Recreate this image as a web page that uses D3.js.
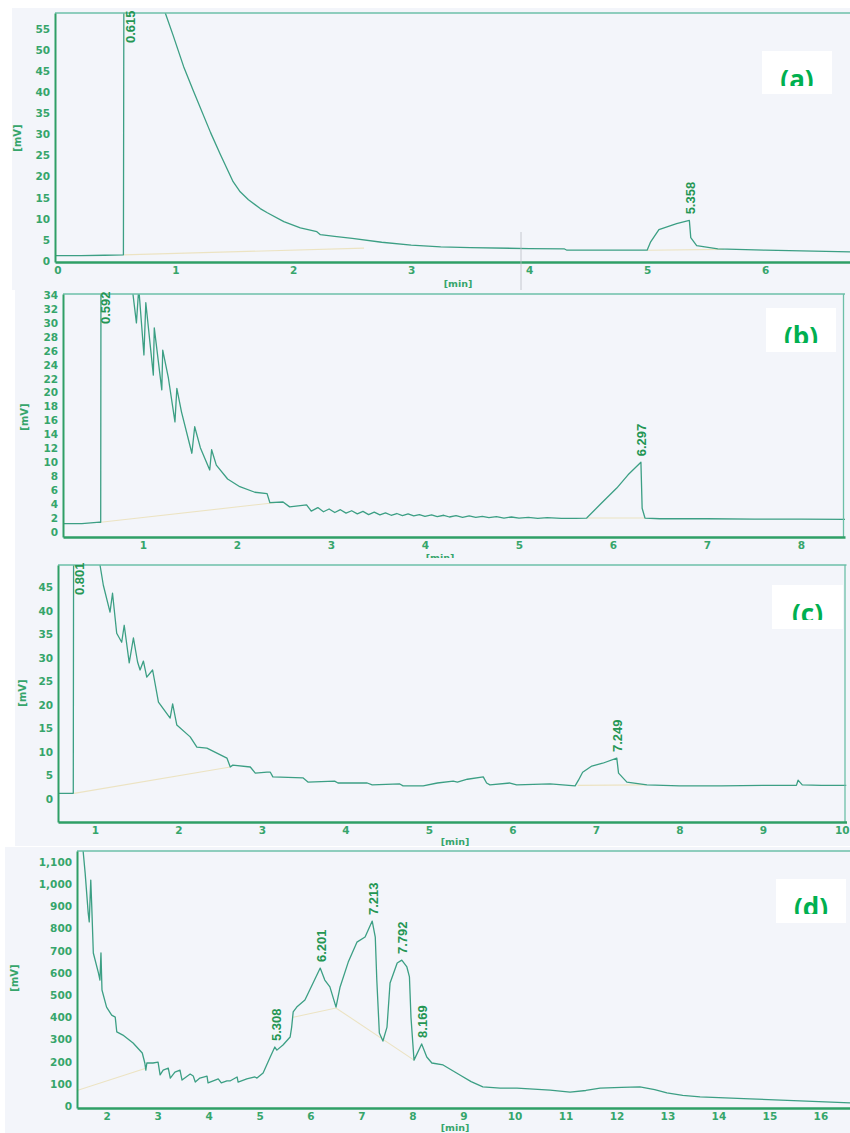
<!DOCTYPE html>
<html>
<head>
<meta charset="utf-8">
<script src="https://cdnjs.cloudflare.com/ajax/libs/d3/7.8.5/d3.min.js"></script>
<style>
body { margin: 0; background: #ffffff; }
svg { display: block; }
.tick text { font-family: "DejaVu Sans", sans-serif; font-weight: bold; font-size: 10.5px; fill: #36a56b; }
</style>
</head>
<body>
<svg id="chart" width="850" height="1133"></svg>
<script>
// chromatogram traces, [time (min), signal (mV)]
var traceA = [[-0.02,1.2],[0.2,1.2],[0.4,1.3],[0.56,1.4],[0.565,80],[0.615,130],[0.8,80],[0.915,58.9],[0.98,53.7],[1.07,46.2],[1.15,40.6],[1.3,30.4],[1.38,25.4],[1.49,18.8],[1.55,16.4],[1.62,14.5],[1.72,12.4],[1.78,11.4],[1.92,9.3],[2.06,7.8],[2.2,6.9],[2.23,6.2],[2.35,5.8],[2.5,5.3],[2.75,4.4],[3.0,3.7],[3.25,3.3],[3.5,3.1],[4.0,2.9],[4.3,2.8],[4.32,2.5],[5.0,2.5],[5.03,4.5],[5.1,7.4],[5.25,8.8],[5.358,9.6],[5.37,5.5],[5.42,3.6],[5.6,2.8],[6.0,2.5],[6.72,2.1]];
var traceB = [[0.15,1.2],[0.35,1.2],[0.54,1.4],[0.55,1.4],[0.555,60],[0.592,90],[0.85,60],[0.89,34.5],[0.93,30],[0.955,35],[1.01,25.4],[1.03,32.9],[1.11,22.5],[1.12,29.3],[1.2,20.4],[1.21,26.1],[1.27,22.1],[1.34,15.8],[1.36,20.6],[1.41,17.2],[1.52,11.3],[1.55,15.1],[1.61,12.1],[1.71,8.9],[1.73,11.8],[1.78,9.6],[1.9,7.6],[2.03,6.5],[2.19,5.7],[2.32,5.5],[2.35,4.2],[2.49,4.3],[2.56,3.6],[2.74,3.9],[2.79,3.0],[2.86,3.5],[2.92,2.9],[2.98,3.3],[3.04,2.8],[3.1,3.2],[3.16,2.7],[3.22,3.05],[3.28,2.6],[3.34,2.95],[3.4,2.5],[3.46,2.85],[3.52,2.45],[3.58,2.75],[3.64,2.4],[3.7,2.65],[3.76,2.35],[3.82,2.6],[3.88,2.3],[3.94,2.5],[4.0,2.25],[4.07,2.45],[4.13,2.2],[4.2,2.4],[4.26,2.15],[4.33,2.35],[4.4,2.1],[4.47,2.3],[4.54,2.1],[4.61,2.25],[4.68,2.05],[4.76,2.2],[4.84,2.0],[4.92,2.15],[5.0,2.0],[5.1,2.1],[5.2,1.95],[5.3,2.05],[5.45,1.95],[5.6,1.95],[5.72,2.0],[5.86,3.9],[6.04,6.3],[6.16,8.2],[6.297,10.0],[6.31,3.4],[6.34,2.0],[6.5,1.9],[7.0,1.9],[7.5,1.85],[8.0,1.85],[8.47,1.8]];
var traceC = [[0.557,1.2],[0.65,1.2],[0.74,1.2],[0.745,70],[0.801,100],[1.0,70],[1.06,49.7],[1.1,45.4],[1.18,39.7],[1.21,43.7],[1.26,35.2],[1.32,33.3],[1.35,36.9],[1.41,28.9],[1.46,34.2],[1.51,29.1],[1.54,27.4],[1.58,29.3],[1.62,25.9],[1.69,27.4],[1.76,20.6],[1.9,17.2],[1.93,20.2],[1.98,15.7],[2.14,13.2],[2.22,11.0],[2.34,10.8],[2.58,8.7],[2.62,6.8],[2.65,7.2],[2.86,6.8],[2.92,5.5],[3.06,5.7],[3.1,5.7],[3.13,4.7],[3.49,4.5],[3.55,3.6],[3.87,3.8],[3.91,3.4],[4.26,3.4],[4.32,3.0],[4.65,3.2],[4.69,2.8],[4.93,2.8],[5.1,3.4],[5.29,3.8],[5.34,3.6],[5.46,4.2],[5.65,4.7],[5.69,3.4],[5.73,3.0],[5.97,3.4],[6.05,3.0],[6.45,3.2],[6.75,2.8],[6.79,4.0],[6.84,5.7],[6.95,7.0],[7.08,7.6],[7.249,8.7],[7.27,5.5],[7.37,3.6],[7.61,3.0],[8.0,2.8],[8.5,2.8],[9.0,2.9],[9.4,2.9],[9.42,4.0],[9.47,3.0],[9.7,2.9],[10.0,2.9]];
var traceD = [[1.42,1300],[1.54,1150],[1.58,1050],[1.64,870],[1.66,830],[1.69,1019],[1.71,897],[1.74,690],[1.84,600],[1.87,568],[1.89,690],[1.91,523],[2.0,446],[2.1,410],[2.17,401],[2.2,334],[2.32,320],[2.52,284],[2.7,239],[2.75,194],[2.77,162],[2.79,194],[2.91,194],[3.01,198],[3.05,140],[3.11,162],[3.21,171],[3.25,126],[3.34,153],[3.44,162],[3.48,117],[3.64,144],[3.7,135],[3.74,108],[3.83,126],[3.97,135],[3.99,104],[4.13,117],[4.19,122],[4.25,104],[4.36,113],[4.42,113],[4.56,131],[4.58,108],[4.75,122],[4.91,131],[4.95,126],[5.07,149],[5.21,221],[5.3,266],[5.34,252],[5.46,275],[5.6,311],[5.63,356],[5.66,424],[5.73,446],[5.89,478],[6.05,555],[6.19,622],[6.28,568],[6.38,537],[6.5,446],[6.58,537],[6.74,649],[6.91,739],[7.07,762],[7.21,834],[7.27,762],[7.3,568],[7.35,329],[7.42,293],[7.5,356],[7.56,555],[7.7,645],[7.79,658],[7.89,627],[7.94,582],[7.97,401],[8.03,207],[8.18,280],[8.28,221],[8.38,194],[8.6,185],[8.93,140],[9.15,110],[9.38,86],[9.72,81],[10.05,81],[10.7,72],[11.09,63],[11.4,70],[11.68,81],[12.1,84],[12.46,86],[12.75,74],[12.99,59],[13.3,48],[13.64,41],[14.62,32],[15.6,23],[16.62,14]];

// integration baselines drawn under the peaks
var baselinesA = [[[0.56,1.4],[2.6,3.0]], [[5.0,2.5],[5.65,2.7]]];
var baselinesB = [[[0.55,1.4],[2.4,4.2]], [[5.72,2.0],[6.34,2.0]]];
var baselinesC = [[[0.75,1.2],[2.62,6.8]], [[6.78,2.9],[7.6,3.0]]];
var baselinesD = [[[1.42,70],[2.77,170]], [[5.66,400],[6.5,442],[8.03,207]]];

// labelled peaks, [retention time, apex mV]
var peaksA = [[0.615,130],[5.358,9.6]];
var peaksB = [[0.592,90],[6.297,10.0]];
var peaksC = [[0.801,100],[7.249,8.7]];
var peaksD = [[5.308,266],[6.201,622],[7.213,834],[7.792,658],[8.169,280]];

// tick labels
var ticksXA = [0,1,2,3,4,5,6];
var ticksYA = [0,5,10,15,20,25,30,35,40,45,50,55];
var ticksXB = [1,2,3,4,5,6,7,8];
var ticksYB = [0,2,4,6,8,10,12,14,16,18,20,22,24,26,28,30,32,34];
var ticksXC = [1,2,3,4,5,6,7,8,9,10];
var ticksYC = [0,5,10,15,20,25,30,35,40,45];
var ticksXD = [2,3,4,5,6,7,8,9,10,11,12,13,14,15,16];
var ticksYD = [0,100,200,300,400,500,600,700,800,900,1000,1100];

var panelNames = ["(a)","(b)","(c)","(d)"];

var AXIS = "#2f9f66", TRACE = "#3c9f84", FRAME = "#6cbfa8", LABEL = "#249653", BASE = "#ece3c2";

var panels = [
	{name: panelNames[0], trace: traceA, peaks: peaksA, baselines: baselinesA, ticksX: ticksXA, ticksY: ticksYA,
	 xDomain: [-0.02, 6.72], yDomain: [-0.3, 58.9], bg: [12, 8, 838, 282],
	 left: 55, right: 850, top: 13, bottom: 262, rightBorder: false,
	 mv: [18, 138], min: [458, 287], box: [762, 51, 70, 43], fmt: d3.format("d")},
	{name: panelNames[1], trace: traceB, peaks: peaksB, baselines: baselinesB, ticksX: ticksXB, ticksY: ticksYB,
	 xDomain: [0.149, 8.468], yDomain: [-0.72, 34.15], bg: [15, 290, 835, 270],
	 left: 63, right: 845, top: 294, bottom: 537, rightBorder: true,
	 mv: [25, 417], min: [440, 561], box: [766, 308, 70, 44], fmt: d3.format("d")},
	{name: panelNames[2], trace: traceC, peaks: peaksC, baselines: baselinesC, ticksX: ticksXC, ticksY: ticksYC,
	 xDomain: [0.557, 10.0], yDomain: [-4.88, 49.7], bg: [15, 558, 835, 288],
	 left: 58, right: 846.5, top: 565, bottom: 822, rightBorder: true,
	 mv: [23, 693], min: [455, 845], box: [772, 585, 71, 44], fmt: d3.format("d")},
	{name: panelNames[3], trace: traceD, peaks: peaksD, baselines: baselinesD, ticksX: ticksXD, ticksY: ticksYD,
	 xDomain: [1.42, 16.62], yDomain: [-9, 1150], bg: [5, 847, 845, 286],
	 left: 77, right: 852, top: 851, bottom: 1108, rightBorder: false,
	 mv: [15, 978], min: [455, 1131], box: [776, 879, 70, 44], fmt: d3.format(",")}
];

var svg = d3.select("#chart");

panels.forEach(function(p, i)
{
	var g = svg.append("g").attr("class", "panel panel-" + i);

	g.append("rect")
		.attr("x", p.bg[0]).attr("y", p.bg[1])
		.attr("width", p.bg[2]).attr("height", p.bg[3])
		.style("fill", "#f3f5fa");

	var x = d3.scaleLinear().domain(p.xDomain).range([p.left, p.right]);
	var y = d3.scaleLinear().domain(p.yDomain).range([p.bottom, p.top]);

	var clipId = "clip" + i;
	g.append("clipPath").attr("id", clipId)
		.append("rect")
		.attr("x", p.left).attr("y", p.top)
		.attr("width", p.right - p.left).attr("height", p.bottom - p.top);

	var line = d3.line().x(function(d) {return x(d[0]);}).y(function(d) {return y(d[1]);});

	var plot = g.append("g").attr("clip-path", "url(#" + clipId + ")");

	p.baselines.forEach(function(b)
	{
		plot.append("path").attr("d", line(b))
			.style("fill", "none").style("stroke", BASE).style("stroke-width", 1.1);
	});

	plot.append("path").attr("d", line(p.trace))
		.style("fill", "none").style("stroke", TRACE).style("stroke-width", 1.3)
		.style("stroke-linejoin", "round");

	// frame: thin top / right, heavy axes
	g.append("line")
		.attr("x1", p.left).attr("x2", Math.min(p.right, 850))
		.attr("y1", p.top).attr("y2", p.top)
		.style("stroke", FRAME).style("stroke-width", 1.3);
	if (p.rightBorder)
	{
		g.append("line")
			.attr("x1", p.right - 1.5).attr("x2", p.right - 1.5)
			.attr("y1", p.top).attr("y2", p.bottom)
			.style("stroke", FRAME).style("stroke-width", 1.3);
	}

	var xAxisG = g.append("g")
		.attr("transform", "translate(0," + p.bottom + ")")
		.call(d3.axisBottom(x).tickValues(p.ticksX).tickSize(0).tickSizeOuter(0).tickPadding(5).tickFormat(p.fmt))
		.call(function(a) {a.select(".domain").style("stroke", AXIS).style("stroke-width", 2.6);});

	// keep a tick label that would run past the page edge inside it
	xAxisG.selectAll(".tick text").each(function()
	{
		var box = this.getBBox();
		var tx = x(+d3.select(this.parentNode).datum());
		if (tx + box.x + box.width > 849) d3.select(this).attr("dx", (849 - (tx + box.x + box.width)) + "px");
	});

	g.append("g")
		.attr("transform", "translate(" + p.left + ",0)")
		.call(d3.axisLeft(y).tickValues(p.ticksY).tickSize(0).tickSizeOuter(0).tickPadding(5).tickFormat(p.fmt))
		.call(function(a) {a.select(".domain").style("stroke", AXIS).style("stroke-width", 2);});

	g.append("text")
		.text("[mV]")
		.attr("transform", "translate(" + p.mv[0] + "," + p.mv[1] + ") rotate(-90)")
		.attr("text-anchor", "middle")
		.attr("dominant-baseline", "middle")
		.style("font-family", "DejaVu Sans, sans-serif").style("font-size", "10px")
		.style("font-weight", "bold").style("fill", "#36a56b");

	g.append("text")
		.text("[min]")
		.attr("x", p.min[0]).attr("y", p.min[1])
		.attr("text-anchor", "middle")
		.style("font-family", "DejaVu Sans, sans-serif").style("font-size", "9.5px")
		.style("font-weight", "bold").style("fill", "#36a56b");

	// retention-time labels, rotated
	p.peaks.forEach(function(pk)
	{
		var ly = Math.max(y(pk[1]) - 6, p.top + 30);
		g.append("text")
			.text(pk[0].toFixed(3))
			.attr("transform", "translate(" + (x(pk[0]) + 2) + "," + ly + ") rotate(-90)")
			.attr("text-anchor", "start")
			.attr("dominant-baseline", "middle")
			.style("font-family", "Liberation Sans Narrow, Liberation Sans, sans-serif")
			.style("font-size", "13px").style("font-weight", "bold")
			.style("fill", LABEL);
	});

	// panel letter in a white box, text cut at the box's lower part
	var bx = p.box;
	g.append("rect")
		.attr("x", bx[0]).attr("y", bx[1]).attr("width", bx[2]).attr("height", bx[3])
		.style("fill", "#ffffff");
	var tClip = "tclip" + i;
	g.append("clipPath").attr("id", tClip)
		.append("rect")
		.attr("x", bx[0]).attr("y", bx[1]).attr("width", bx[2]).attr("height", 35);
	g.append("text")
		.text(p.name)
		.attr("x", bx[0] + bx[2] / 2).attr("y", bx[1] + 38)
		.attr("text-anchor", "middle")
		.attr("clip-path", "url(#" + tClip + ")")
		.style("font-family", "Open Sans, sans-serif").style("font-size", "26px")
		.style("font-weight", "bold").style("fill", "#00b050");

	if (i == 0)
	{
		// scanner seam in the first panel
		g.append("line")
			.attr("x1", 521).attr("x2", 521).attr("y1", 232).attr("y2", 290)
			.style("stroke", "#b9bcc4").style("stroke-width", 0.8);
	}
});
</script>
</body>
</html>
